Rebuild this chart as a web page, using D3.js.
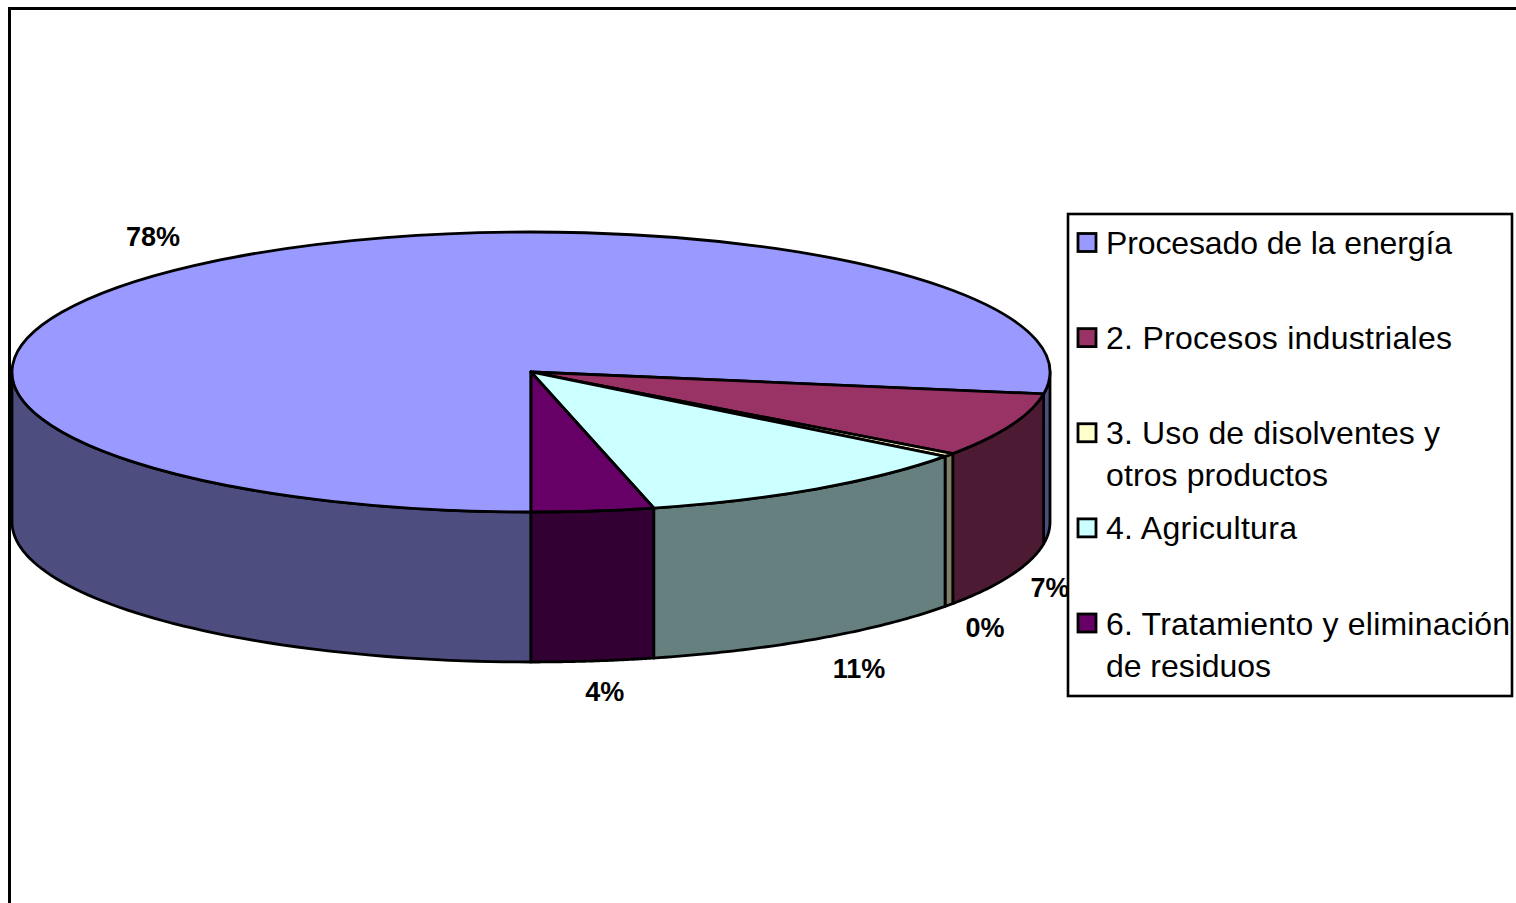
<!DOCTYPE html>
<html lang="es">
<head>
<meta charset="utf-8"/>
<script src="https://d3js.org/d3.v7.min.js"></script>
<style>
  html, body { margin: 0; background: #fff; }
  svg { display: block; font-family: "Liberation Sans", Arial, sans-serif; }
  .slice, .wall { stroke: #000; stroke-width: 2.8px; stroke-linejoin: round; vector-effect: non-scaling-stroke; }
  .pct { font-size: 27px; font-weight: bold; text-anchor: middle; }
  .legend-text { font-size: 32px; }
</style>
</head>
<body>
<script>
// values
var categories = ["Procesado de la energía", "2. Procesos industriales", "3. Uso de disolventes y otros productos", "4. Agricultura", "6. Tratamiento y eliminación de residuos"];
var legendLines = [["Procesado de la energía"], ["2. Procesos industriales"], ["3. Uso de disolventes y", "otros productos"], ["4. Agricultura"], ["6. Tratamiento y eliminación", "de residuos"]];
var values = [77.5, 7.4, 0.4, 10.9, 3.8];
var pctLabels = ["78%", "7%", "0%", "11%", "4%"];
var topColors = ["#9999FF", "#993366", "#FFFFCC", "#CCFFFF", "#660066"];
var sideColors = ["#4D4D80", "#4D1A33", "#808066", "#668080", "#330033"];

var width = 1516, height = 903;
var cx = 531, cy = 372, rx = 519, ry = 140, depth = 150;
// label shift from the rim point at each slice's middle
var labelShift = [[-41, -20], [39, 22], [36, 32], [43, 39], [12, 40]];
// rendered width of each legend line in the reference
var lineWidths = [[346], [346], [334, 222], [191], [404, 165]];

var svg = d3.select("body").append("svg")
    .attr("width", width)
    .attr("height", height);

svg.append("rect").attr("width", width).attr("height", height).attr("fill", "#fff");

// outer frame, runs off the right and bottom of the picture
svg.append("path")
    .attr("d", "M9.5," + (height + 5) + "V8.5H" + (width + 5))
    .attr("fill", "none")
    .attr("stroke", "#000")
    .attr("stroke-width", 3);

var pie = d3.pie().sort(null).startAngle(Math.PI).endAngle(3 * Math.PI);
var slices = pie(values);

function rimX(a) { return cx + rx * Math.sin(a); }
function rimY(a) { return cy - ry * Math.cos(a); }

var wallArea = d3.area()
    .x(rimX)
    .y0(rimY)
    .y1(function(a) { return rimY(a) + depth; });

// only the front half of the rim shows a wall
function wallAngles(d) {
  var out = [];
  [0, 2].forEach(function(turn) {
    var a0 = Math.max(d.startAngle, Math.PI / 2 + turn * Math.PI);
    var a1 = Math.min(d.endAngle, 3 * Math.PI / 2 + turn * Math.PI);
    if (a1 > a0) out.push(d3.range(0, 1.0001, 1 / 60).map(function(t) { return a0 + (a1 - a0) * t; }));
  });
  return out;
}

slices.forEach(function(d, i) {
  wallAngles(d).forEach(function(angles) {
    svg.append("path")
        .attr("class", "wall")
        .attr("fill", sideColors[i])
        .attr("d", wallArea(angles) + "Z");
  });
});

var arc = d3.arc().innerRadius(0).outerRadius(rx);

svg.append("g")
    .attr("transform", "translate(" + cx + "," + cy + ") scale(1," + (ry / rx) + ")")
  .selectAll("path")
    .data(slices).enter()
    .append("path")
    .attr("class", "slice")
    .attr("fill", function(d, i) { return topColors[i]; })
    .attr("d", arc);

svg.selectAll(".pct")
    .data(slices).enter()
    .append("text")
    .attr("class", "pct")
    .attr("x", function(d, i) { return rimX((d.startAngle + d.endAngle) / 2) + labelShift[i][0]; })
    .attr("y", function(d, i) {
      var mid = (d.startAngle + d.endAngle) / 2;
      var front = Math.cos(mid) < 0 ? depth : 0;
      return rimY(mid) + front + labelShift[i][1];
    })
    .text(function(d, i) { return pctLabels[i]; });

// legend
var legend = svg.append("g");

legend.append("rect")
    .attr("x", 1068)
    .attr("y", 214)
    .attr("width", 444)
    .attr("height", 482)
    .attr("fill", "#fff")
    .attr("stroke", "#000")
    .attr("stroke-width", 2.6);

var legendY = d3.scalePoint().domain(categories).range([242.5, 623]);

var rows = legend.selectAll(".row")
    .data(categories).enter()
    .append("g")
    .attr("class", "row")
    .attr("transform", function(d) { return "translate(0," + legendY(d) + ")"; });

rows.append("rect")
    .attr("x", 1078)
    .attr("y", -9)
    .attr("width", 18)
    .attr("height", 18)
    .attr("fill", function(d, i) { return topColors[i]; })
    .attr("stroke", "#000")
    .attr("stroke-width", 2.8);

rows.each(function(d, i) {
  d3.select(this).selectAll("text")
      .data(legendLines[i]).enter()
      .append("text")
      .attr("class", "legend-text")
      .attr("x", 1106)
      .attr("y", function(line, j) { return 11.5 + j * 42; })
      .attr("textLength", function(line, j) { return lineWidths[i][j]; })
      .attr("lengthAdjust", "spacing")
      .text(function(line) { return line; });
});
</script>
</body>
</html>
